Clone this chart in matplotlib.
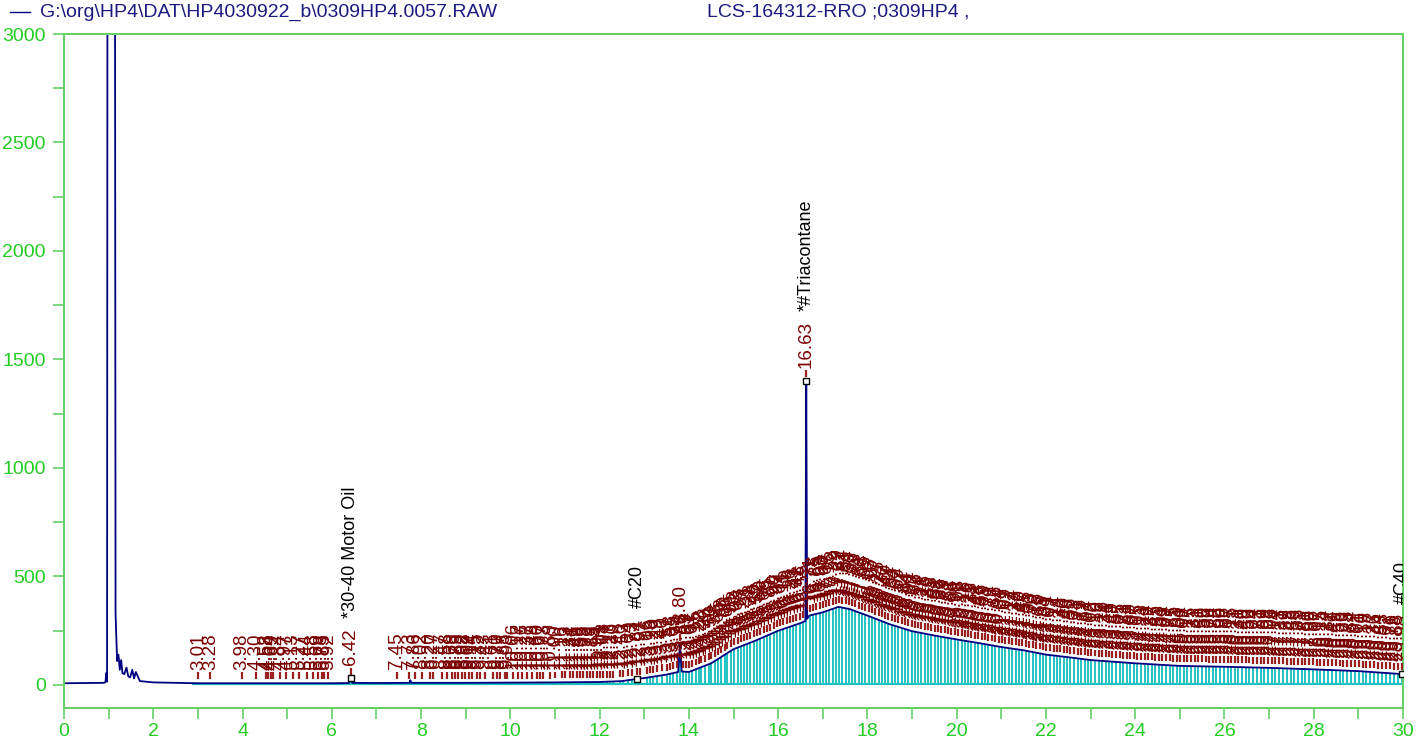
import numpy as np
import matplotlib
matplotlib.use("Agg")
import matplotlib.pyplot as plt
from matplotlib.lines import Line2D
from matplotlib.ticker import MultipleLocator

plt.rcParams['font.family'] = ['Liberation Sans', 'DejaVu Sans']

# ---------------- data ----------------
header_file = r"G:\org\HP4\DAT\HP4030922_b\0309HP4.0057.RAW"
header_sample = "LCS-164312-RRO ;0309HP4 ,"

trace_t = [0.0, 0.90, 0.93, 0.945, 0.955, 0.965, 0.975, 1.14, 1.155, 1.19,
           1.22, 1.25, 1.28, 1.31, 1.35, 1.40, 1.44, 1.48, 1.53, 1.57,
           1.61, 1.70, 2.0, 2.5, 3.0, 4.0, 5.0, 6.0, 6.38, 6.42,
           6.46, 7.0, 7.74, 7.76, 7.78, 8.0, 9.0, 10.0, 11.0, 12.0,
           12.5, 12.84, 13.0, 13.5, 13.76, 13.80, 13.84, 14.0, 14.5, 15.0,
           15.5, 16.0, 16.5, 16.61, 16.63, 16.65, 16.70, 17.0, 17.35, 17.6,
           18.0, 18.5, 19.0, 19.5, 20.0, 20.5, 21.0, 21.5, 22.0, 22.5,
           23.0, 24.0, 25.0, 26.0, 27.0, 28.0, 29.0, 30.0]
trace_y = [8, 10, 14, 55, 25, 15, 4000, 4000, 330, 110,
           140, 70, 115, 55, 50, 80, 40, 35, 70, 30,
           60, 18, 12, 10, 8, 8, 8, 8, 9, 30,
           10, 9, 10, 22, 10, 10, 10, 11, 12, 14,
           18, 28, 32, 48, 60, 185, 62, 60, 100, 165,
           205, 250, 285, 295, 1400, 305, 320, 335, 360, 350,
           320, 280, 248, 228, 210, 193, 175, 160, 140, 128,
           115, 100, 88, 84, 79, 72, 64, 50]

peaks_early = [3.01, 3.28, 3.98, 4.30, 4.53, 4.58, 4.64, 4.69, 4.84, 4.97,
               5.13, 5.27, 5.44, 5.58, 5.69, 5.78, 5.83, 5.92, 6.42]
peaks_mid = [7.45, 7.73, 7.86, 8.02, 8.20, 8.27, 8.47, 8.58, 8.69, 8.76,
             8.83, 8.92, 8.98, 9.07, 9.14, 9.25, 9.32, 9.43, 9.61, 9.70,
             9.77, 9.88, 9.93, 10.06, 10.17, 10.26, 10.37, 10.49, 10.60, 10.67,
             10.73, 10.89, 11.00, 11.16, 11.23, 11.34, 11.41, 11.49, 11.56, 11.63,
             11.72, 11.79, 11.85, 11.94, 12.01, 12.08, 12.17, 12.23, 12.30, 12.46,
             12.53, 12.64, 12.73, 12.84, 12.91, 13.06, 13.13, 13.20, 13.29, 13.40,
             13.51, 13.58, 13.65, 13.74, 13.80]
peaks_hump = [13.86, 13.93, 14.01, 14.07, 14.15, 14.22, 14.28, 14.36, 14.44, 14.50,
              14.58, 14.65, 14.73, 14.80, 14.86, 14.95, 15.02, 15.09, 15.17, 15.23,
              15.31, 15.38, 15.46, 15.52, 15.60, 15.68, 15.75, 15.81, 15.90, 15.97,
              16.04, 16.11, 16.19, 16.26, 16.33, 16.41, 16.48, 16.55, 16.63, 16.71,
              16.78, 16.85, 16.93, 17.00, 17.07, 17.15, 17.22, 17.29, 17.37, 17.44,
              17.51, 17.59, 17.66, 17.73, 17.81, 17.88, 17.95, 18.03, 18.10, 18.17,
              18.25, 18.32, 18.40, 18.47, 18.54, 18.62, 18.69, 18.77, 18.84, 18.91,
              18.99, 19.06, 19.14, 19.21, 19.28, 19.36, 19.43, 19.51, 19.58, 19.66,
              19.73, 19.81, 19.88, 19.96, 20.03, 20.11, 20.18, 20.26, 20.33, 20.41,
              20.48, 20.56, 20.63, 20.71, 20.79, 20.86, 20.94, 21.01, 21.09, 21.17,
              21.24, 21.32, 21.40, 21.47, 21.55, 21.63, 21.70, 21.78, 21.86, 21.93,
              22.01, 22.09, 22.17, 22.24, 22.32, 22.40, 22.48, 22.55, 22.63, 22.71,
              22.79, 22.87, 22.94, 23.02, 23.10, 23.18, 23.26, 23.34, 23.41, 23.49,
              23.57, 23.65, 23.73, 23.81, 23.89, 23.97, 24.05, 24.13, 24.21, 24.29,
              24.37, 24.45, 24.53, 24.61, 24.69, 24.77, 24.85, 24.93, 25.01, 25.09,
              25.17, 25.25, 25.33, 25.41, 25.50, 25.58, 25.66, 25.74, 25.82, 25.90,
              25.98, 26.07, 26.15, 26.23, 26.31, 26.40, 26.48, 26.56, 26.64, 26.73,
              26.81, 26.89, 26.98, 27.06, 27.14, 27.23, 27.31, 27.39, 27.48, 27.56,
              27.65, 27.73, 27.81, 27.90, 27.98, 28.07, 28.15, 28.24, 28.32, 28.41,
              28.49, 28.58, 28.66, 28.75, 28.84, 28.92, 29.01, 29.10, 29.18, 29.27,
              29.36, 29.44, 29.53, 29.62, 29.71, 29.79, 29.88, 29.98]

named_times = [6.42, 12.84, 16.63, 29.98]
named_labels = ["*30-40 Motor Oil", "#C20", "*#Triacontane", "#C40"]

# ---------------- styling ----------------
NAVY = '#000080'
CYAN = '#22c2c2'
MAROON = '#7a0000'
TICKRED = '#9a2020'
GREEN_SPINE = '#66d066'
GREEN_TXT = '#22cc22'
FS = 13.5

fig = plt.figure(figsize=(14.25, 7.49), dpi=100)
ax = fig.add_axes([64 / 1425, 41 / 749, 1339 / 1425, 674 / 749])
ax.set_xlim(0, 30)
ax.set_ylim(-106, 3000)

peak_times = np.array(peaks_early + peaks_mid + peaks_hump)
peak_h = np.interp(peak_times, trace_t, trace_y)

# integration drop lines and baseline
ax.vlines(peak_times, 4, peak_h, color=CYAN, lw=1.4, zorder=1)
ax.plot([2.9, 30], [4, 4], color=CYAN, lw=1.6, zorder=1)

# chromatogram trace
ax.plot(trace_t, trace_y, color=NAVY, lw=1.3, zorder=2)

# peak tick marks
ax.vlines(peak_times, peak_h + 18, peak_h + 50, color=TICKRED, lw=1.6, zorder=3)

# retention time labels
red_texts = {}
for t, h in zip(peak_times, peak_h):
    txt = ax.text(t, h + 62, f"{t:.2f}", rotation=90, ha='center', va='bottom',
                  color=MAROON, fontsize=FS, zorder=4, clip_on=True)
    red_texts[round(float(t), 2)] = txt

# named compound labels and markers
named_h = np.interp(named_times, trace_t, trace_y)
ax.plot(named_times, named_h, 's', ms=5, mfc='white', mec='black', mew=1.0, zorder=5)
for t, lab in zip(named_times, named_labels):
    anchor = red_texts[round(t, 2)]
    ax.annotate(lab, xy=(0.5, 1.0), xycoords=anchor, xytext=(0, 10),
                textcoords='offset pixels', rotation=90, ha='center', va='bottom',
                color='black', fontsize=13, zorder=5, clip_on=True)

# axes styling
for sp in ax.spines.values():
    sp.set_color(GREEN_SPINE)
    sp.set_linewidth(1.5)
ax.xaxis.set_major_locator(MultipleLocator(2))
ax.xaxis.set_minor_locator(MultipleLocator(1))
ax.yaxis.set_major_locator(MultipleLocator(500))
ax.yaxis.set_minor_locator(MultipleLocator(250))
ax.set_yticks(np.arange(0, 3001, 500))
ax.tick_params(which='both', direction='out', colors=GREEN_SPINE, labelcolor=GREEN_TXT,
               labelsize=14, width=1.2, length=8)
ax.tick_params(axis='y', pad=5)
ax.tick_params(axis='x', pad=3)

# header
yh = 1 - 12 / 749
fig.add_artist(Line2D([10 / 1425, 30 / 1425], [yh, yh], color=NAVY, lw=1.0))
fig.text(40 / 1425, yh, header_file, va='center', ha='left', color='#1a1a80', fontsize=14)
fig.text(707 / 1425, yh, header_sample, va='center', ha='left', color='#1a1a80', fontsize=14)

fig.savefig('out.png', dpi=100)
